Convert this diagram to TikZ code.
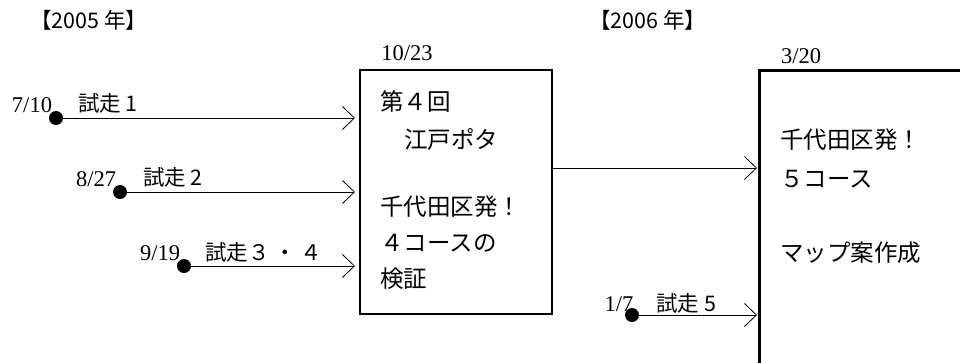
\documentclass[tikz,border=0pt]{standalone}
\usepackage{fontspec}
\setmainfont{Noto Sans CJK JP}
\newfontfamily\tnr{Liberation Serif}
\usetikzlibrary{arrows.meta}
\tikzset{
  x=1pt, y=-1pt,
  arr/.style={-{Straight Barb[length=12pt,width=23pt,line width=0.8pt]}, line width=0.9pt},
  dot/.style={circle, fill=black, inner sep=0pt, minimum size=14pt},
  date/.style={inner sep=0pt, font=\tnr\fontsize{22.5}{22.5}\selectfont},
  lab/.style={inner sep=0pt, anchor=west, font=\fontsize{21.5}{21.5}\selectfont},
  btxt/.style={inner sep=0pt, anchor=west, font=\fontsize{23.5}{23.5}\selectfont},
  boxm/.style={draw, line width=1.3pt, minimum width=192pt, minimum height=244pt, inner sep=0pt}
}
\begin{document}
\begin{tikzpicture}
\useasboundingbox (0,0) rectangle (960,362);
\clip (0,0) rectangle (960,362);
\fill[white] (0,0) rectangle (960,362);

% headings
\node[lab] (h1) at (30,20) {【2005 年】};
\node[lab] (h2) at (589,20) {【2006 年】};

% middle box
\node[boxm] (mid) at (456,192) {};
\node[date] (m0) at (407,53) {10/23};
\node[btxt] (m1) at (380,102) {第４回};
\node[btxt] (m2) at (404,140) {江戸ポタ};
\node[btxt] (m3) at (380,207) {千代田区発！};
\node[btxt] (m4) at (380,243) {４コースの};
\node[btxt] (m5) at (380,279) {検証};

% right box (extends past the edges)
\draw[line width=3pt] (975,70) -- (759,70) -- (759,380);
\node[date] (r0) at (801,56) {3/20};
\node[btxt] (r1) at (780,140) {千代田区発！};
\node[btxt] (r2) at (780,179) {５コース};
\node[btxt] (r3) at (780,253) {マップ案作成};

% dots and arrows
\node[dot] (d1) at (56,118) {};
\node[dot] (d2) at (120,192) {};
\node[dot] (d3) at (184,266) {};
\node[dot] (d5) at (632,315) {};
\coordinate (t1) at (355,118);
\coordinate (t2) at (355,192);
\coordinate (t3) at (355,266);
\coordinate (t4) at (757,168);
\coordinate (t5) at (757,315);
\coordinate (s4) at (552,168);

\draw[arr] (d1.center) -- (t1);
\draw[arr] (d2.center) -- (t2);
\draw[arr] (d3.center) -- (t3);
\draw[arr] (s4) -- (t4);
\draw[arr] (d5.center) -- (t5);

% dates and labels
\node[date] (a1) at (32,105) {7/10};
\node[date] (a2) at (96,179) {8/27};
\node[date] (a3) at (160,253) {9/19};
\node[date] (a5) at (619,304) {1/7};
\node[lab] (l1) at (78,103) {試走 1};
\node[lab] (l2) at (143,177) {試走 2};
\node[lab] (l3) at (205,252) {試走３ ・ ４};
\node[lab] (l5) at (656,303) {試走 5};
\end{tikzpicture}
\end{document}
